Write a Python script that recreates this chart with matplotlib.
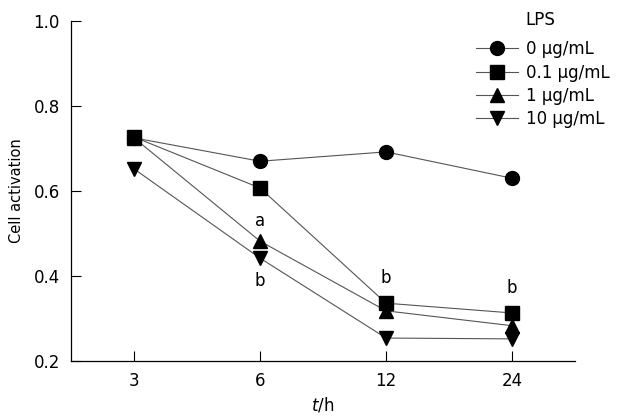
import matplotlib
matplotlib.use('Agg')
import matplotlib.pyplot as plt
import numpy as np

#################### DATA ######################
times=['3','6','12','24']
lps_labels=['0 μg/mL','0.1 μg/mL','1 μg/mL','10 μg/mL']
act_0=[0.725,0.670,0.692,0.630]
act_01=[0.727,0.607,0.336,0.313]
act_1=[0.725,0.482,0.318,0.283]
act_10=[0.652,0.442,0.254,0.252]
# significance letters: (time index, y, letter)
sig_x=[1,1,2,3]
sig_y=[0.530,0.388,0.396,0.372]
sig_txt=['a','b','b','b']
#################################################
markers=['o','s','^','v']
zords=[3,6,4,5]
series=[act_0,act_01,act_1,act_10]

plt.rcParams['font.family']='DejaVu Sans'
plt.rcParams['mathtext.fontset']='dejavusans'

fig=plt.figure(figsize=(6.19,4.18),dpi=100)
ax=fig.add_axes([0.1147,0.1364,0.8143,0.8134])
xs=np.arange(len(times))
hands=[]
for vals,mk,lab,z in zip(series,markers,lps_labels,zords):
	h,=ax.plot(xs,vals,color='#555555',lw=0.8,marker=mk,ms=10 if mk=='o' else 9.5,
		mfc='black',mec='black',label=lab,zorder=z)
	hands.append(h)
for x,y,t in zip(sig_x,sig_y,sig_txt):
	ax.text(x,y,t,ha='center',va='center',fontsize=12)

ax.set_xlim(-0.5,3.5)
ax.set_ylim(0.2,1.0)
ax.set_xticks(xs)
ax.set_xticklabels(times)
ax.set_yticks([0.2,0.4,0.6,0.8,1.0])
ax.set_yticklabels(['0.2','0.4','0.6','0.8','1.0'])
ax.tick_params(direction='in',length=7,width=0.8,labelsize=12,pad=8)
ax.spines['top'].set_visible(False)
ax.spines['right'].set_visible(False)
for s in ['left','bottom']:
	ax.spines[s].set_linewidth(0.9)
ax.set_ylabel('Cell activation',fontsize=10.5,labelpad=7)
ax.set_xlabel('$\\it{t}$/h',fontsize=12,labelpad=4)

fig.text(525/619,1-20/418,'LPS',fontsize=12,va='center',ha='left')
leg=fig.legend(handles=hands,loc='upper left',bbox_to_anchor=(468/619,1-32/418),frameon=False,
	fontsize=12,handlelength=2.5,handletextpad=0.45,labelspacing=0.32,borderpad=0)

fig.savefig('out.png',dpi=100)
